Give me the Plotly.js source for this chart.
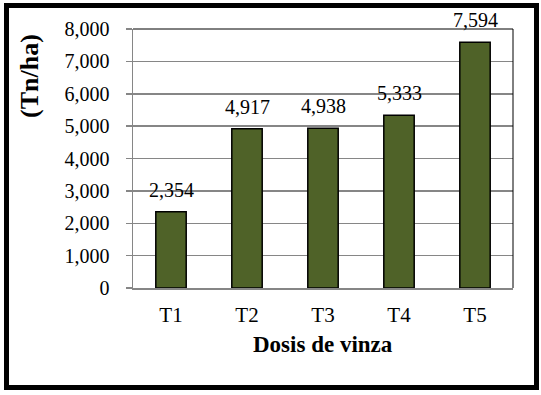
<!DOCTYPE html>
<html>
<head>
<meta charset="utf-8">
<script src="https://cdn.plot.ly/plotly-3.0.1.min.js"></script>
<style>
  html, body { margin: 0; padding: 0; background: #fff; }
  #wrap { position: relative; width: 541px; height: 395px; }
  #chart { position: absolute; left: 0; top: 0; width: 541px; height: 395px; }
  #frame { position: absolute; left: 4px; top: 3px; width: 535px; height: 387px;
           box-sizing: border-box; border: 5px solid #000; pointer-events: none; }
</style>
</head>
<body>
<div id="wrap">
  <div id="chart"></div>
  <div id="frame"></div>
</div>
<script>
const categories = ["T1", "T2", "T3", "T4", "T5"];
const values = [2354, 4917, 4938, 5333, 7594];
const valueLabels = ["2,354", "4,917", "4,938", "5,333", "7,594"];
const xTitle = "Dosis de vinza";
const yTitle = "(Tn/ha)";

const FONT = "'Liberation Serif', 'Times New Roman', serif";
const GRAY = "#868686";

const trace = {
  type: "bar",
  x: categories,
  y: values,
  width: 0.4,
  marker: { color: "#4F6228", line: { color: "#000", width: 1.5 } },
  hoverinfo: "none"
};

const annotations = categories.map((c, i) => ({
  x: c, y: values[i], xref: "x", yref: "y",
  text: valueLabels[i], showarrow: false,
  yanchor: "bottom", yshift: 9,
  font: { family: FONT, size: 20, color: "#000" }
}));

annotations.push({
  xref: "paper", yref: "paper", x: -0.271, y: 0.819,
  text: "<b>" + yTitle + "</b>", textangle: -90, showarrow: false,
  xanchor: "center", yanchor: "middle",
  font: { family: FONT, size: 26, color: "#000" }
});
annotations.push({
  xref: "paper", yref: "paper", x: 0.5, y: -0.22,
  text: "<b>" + xTitle + "</b>", showarrow: false,
  xanchor: "center", yanchor: "middle",
  font: { family: FONT, size: 23, color: "#000" }
});

const layout = {
  width: 541, height: 395,
  margin: { l: 133, r: 28, t: 29, b: 107 },
  paper_bgcolor: "#fff", plot_bgcolor: "#fff",
  showlegend: false,
  xaxis: {
    type: "category", range: [-0.5, 4.5],
    showline: true, linecolor: GRAY, linewidth: 1.5,
    ticks: "outside", ticklen: 7, tickcolor: "rgba(0,0,0,0)",
    tickfont: { family: FONT, size: 21, color: "#000" },
    showgrid: false, zeroline: false
  },
  yaxis: {
    range: [0, 8000], dtick: 1000, tickformat: ",d",
    showline: true, linecolor: GRAY, linewidth: 1.5,
    ticks: "outside", ticklen: 6, tickcolor: GRAY, tickwidth: 1.5,
    ticklabelstandoff: 12,
    showgrid: true, gridcolor: GRAY, gridwidth: 1.5,
    zeroline: false,
    tickfont: { family: FONT, size: 20, color: "#000" }
  },
  shapes: [
    { type: "line", xref: "paper", yref: "paper", x0: 0, x1: 1, y0: 1, y1: 1, line: { color: "#000", width: 1 } },
    { type: "line", xref: "paper", yref: "paper", x0: 1, x1: 1, y0: 0, y1: 1, line: { color: "#000", width: 1 } }
  ],
  annotations: annotations
};

Plotly.newPlot("chart", [trace], layout, { staticPlot: true, displayModeBar: false });
</script>
</body>
</html>
